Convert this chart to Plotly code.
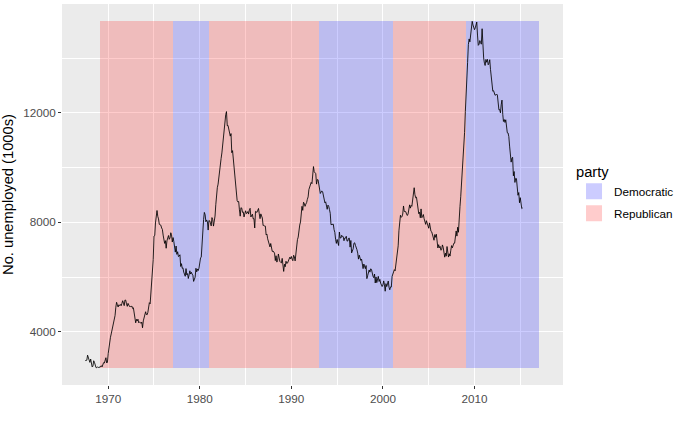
import pandas as pd
import plotly.graph_objects as go

# Monthly number of unemployed (thousands), starting July 1967
unemploy = [
    2944, 2945, 2958, 3143, 3066, 3018,
    2878, 3001, 2877, 2709, 2740, 2938, 2883, 2768, 2686, 2689, 2715, 2685,
    2718, 2692, 2712, 2758, 2713, 2816, 2868, 2856, 3040, 3049, 2856, 2884,
    3201, 3453, 3635, 3797, 3919, 4071, 4175, 4256, 4456, 4591, 4898, 5076,
    4986, 4903, 4987, 4959, 4996, 4949, 5035, 5134, 5042, 4954, 5161, 5154,
    5019, 4928, 5038, 4959, 4922, 4923, 4913, 4939, 4849, 4875, 4602, 4543,
    4326, 4452, 4394, 4459, 4329, 4363, 4305, 4305, 4350, 4144, 4396, 4489,
    4644, 4731, 4634, 4618, 4705, 4927, 5063, 5022, 5437, 5523, 6140, 6636,
    7501, 7520, 7978, 8210, 8433, 8220, 8127, 7928, 7923, 7897, 7794, 7744,
    7534, 7326, 7230, 7330, 7053, 7322, 7490, 7518, 7380, 7430, 7620, 7545,
    7280, 7443, 7307, 7059, 6911, 7134, 6829, 6925, 6751, 6763, 6815, 6386,
    6489, 6318, 6337, 6180, 6127, 6028, 6309, 6080, 6125, 5947, 6077, 6228,
    6109, 6173, 6109, 6069, 5840, 5959, 5996, 6320, 6190, 6296, 6238, 6325,
    6683, 6702, 6729, 7358, 7984, 8098, 8363, 8281, 8021, 8088, 8023, 7718,
    8071, 8051, 7982, 7869, 8174, 8098, 7863, 8036, 8230, 8646, 9029, 9267,
    9397, 9705, 9895, 10244, 10335, 10538, 10849, 10881, 11217, 11529, 11938, 12051,
    11534, 11545, 11408, 11268, 11154, 11246, 10548, 10623, 10282, 9887, 9499, 9331,
    9008, 8791, 8746, 8762, 8456, 8226, 8537, 8519, 8367, 8381, 8198, 8358,
    8423, 8321, 8339, 8395, 8302, 8460, 8513, 8196, 8248, 8298, 8128, 8138,
    7795, 8402, 8383, 8364, 8439, 8508, 8319, 8135, 8310, 8243, 8159, 7883,
    7892, 7865, 7862, 7542, 7574, 7398, 7268, 7261, 7102, 7227, 7035, 6936,
    6953, 6929, 6876, 6601, 6779, 6546, 6605, 6843, 6604, 6568, 6537, 6518,
    6682, 6359, 6205, 6468, 6375, 6577, 6495, 6511, 6590, 6630, 6725, 6667,
    6752, 6651, 6598, 6797, 6742, 6590, 6922, 7188, 7368, 7459, 7764, 7901,
    8015, 8265, 8586, 8439, 8736, 8692, 8586, 8666, 8722, 8842, 8931, 9198,
    9283, 9454, 9460, 9415, 9744, 10040, 9850, 9787, 9781, 9398, 9565, 9557,
    9325, 9183, 9056, 9110, 9149, 9121, 8930, 8763, 8714, 8750, 8542, 8477,
    8630, 8583, 8470, 8331, 7915, 7927, 7946, 7933, 7734, 7632, 7375, 7230,
    7375, 7187, 7153, 7645, 7430, 7427, 7527, 7484, 7478, 7328, 7426, 7423,
    7491, 7313, 7318, 7415, 7423, 7095, 7337, 6882, 6979, 7031, 7236, 7253,
    7158, 7102, 7000, 6873, 6655, 6799, 6655, 6608, 6656, 6454, 6308, 6476,
    6368, 6306, 6422, 5941, 6047, 6212, 6259, 6179, 6300, 6280, 6100, 6032,
    5976, 6111, 5783, 6004, 5796, 5951, 6025, 5838, 5915, 5778, 5716, 5653,
    5708, 5858, 5733, 5481, 5758, 5651, 5747, 5853, 5625, 5534, 5639, 5634,
    6023, 6089, 6141, 6271, 6226, 6484, 6583, 7042, 7142, 7694, 8003, 8258,
    8182, 8215, 8304, 8599, 8399, 8393, 8390, 8304, 8251, 8307, 8520, 8640,
    8520, 8618, 8588, 8842, 8957, 9266, 9011, 8896, 8921, 8732, 8576, 8317,
    8370, 8167, 8491, 8170, 8212, 8286, 8136, 7990, 7927, 8061, 7932, 7934,
    7784, 7980, 7737, 7672, 7651, 7524, 7406, 7345, 7553, 7453, 7566, 7279,
    7064, 7184, 7072, 7120, 6980, 7001, 7175, 7091, 6847, 6727, 6872, 6762,
    7116, 6927, 6731, 6850, 6766, 6979, 7149, 7067, 7170, 7237, 7240, 7645,
    7685, 7497, 7822, 7637, 8395, 8575, 8937, 9438, 9494, 10074, 10538, 11286,
    12058, 12898, 13426, 13853, 14499, 14707, 14601, 14814, 15009, 15352, 15219, 15098,
    15046, 15113, 15202, 15325, 14849, 14474, 14512, 14648, 14579, 14516, 15081, 14348,
    14013, 13820, 13737, 13957, 13855, 13962, 13763, 13818, 13948, 13594, 13302, 13093,
    12797, 12813, 12713, 12646, 12660, 12692, 12656, 12471, 12115, 12124, 12005, 12298,
    12471, 11950, 11689, 11760, 11654, 11751, 11335, 11279, 11270, 11136, 10787, 10404,
    10202, 10349, 10380, 9702, 9859, 9460, 9608, 9599, 9262, 8990, 9090, 8717,
    8903, 8610, 8504, 8526,
]
dates = pd.date_range("1967-07-01", periods=len(unemploy), freq="MS")

# Presidential terms
term_start = ["1969-01-20", "1974-08-09", "1977-01-20", "1981-01-20", "1989-01-20",
              "1993-01-20", "2001-01-20", "2009-01-20"]
term_end = ["1974-08-09", "1977-01-20", "1981-01-20", "1989-01-20", "1993-01-20",
            "2001-01-20", "2009-01-20", "2017-01-20"]
party = ["Republican", "Republican", "Democratic", "Republican", "Republican",
         "Democratic", "Republican", "Democratic"]

party_names = ["Democratic", "Republican"]
party_colors = {"Democratic": "rgba(0,0,255,0.2)", "Republican": "rgba(255,0,0,0.2)"}
ymin, ymax = min(unemploy), max(unemploy)

fig = go.Figure()
for s, e, p in zip(term_start, term_end, party):
    s_ts, e_ts = pd.Timestamp(s), pd.Timestamp(e)
    mid = s_ts + (e_ts - s_ts) / 2
    width_ms = (e_ts - s_ts).total_seconds() * 1000
    fig.add_trace(go.Bar(
        x=[mid], y=[ymax - ymin], base=[ymin], width=[width_ms],
        marker=dict(color=party_colors[p], line=dict(width=0)),
        name=p, legendgroup=p, showlegend=False, hoverinfo="skip",
    ))

# legend keys
for p in party_names:
    fig.add_trace(go.Scatter(
        x=[None], y=[None], mode="markers", name=p, legendgroup=p,
        marker=dict(symbol="square", size=20, color=party_colors[p], line=dict(width=0)),
    ))

fig.add_trace(go.Scatter(
    x=dates, y=unemploy, mode="lines",
    line=dict(color="black", width=0.85), showlegend=False,
))

grid = "white"
fig.update_layout(
    width=686, height=426,
    margin=dict(l=62, r=123, t=4, b=41, autoexpand=False),
    paper_bgcolor="white", plot_bgcolor="#EBEBEB",
    barmode="overlay", bargap=0,
    font=dict(family="Liberation Sans, Arial, sans-serif", color="#4D4D4D", size=11.7),
    legend=dict(
        title=dict(text="party", font=dict(size=14.7, color="black")),
        font=dict(size=11.7, color="black"),
        x=1.022, xanchor="left", y=0.597, yanchor="top",
        tracegroupgap=3, itemsizing="trace", bgcolor="rgba(0,0,0,0)",
    ),
    xaxis=dict(
        type="date", range=["1964-12-15", "2019-09-01"],
        tick0="1970-01-01", dtick="M120", tickformat="%Y",
        showgrid=True, gridcolor=grid, gridwidth=1.1,
        minor=dict(dtick="M60", tick0="1965-01-01", showgrid=True,
                   gridcolor=grid, gridwidth=0.5, ticks=""),
        ticks="outside", ticklen=3, tickcolor="#333333", tickwidth=1,
        zeroline=False, showline=False,
        tickfont=dict(size=11.7, color="#4D4D4D"),
    ),
    yaxis=dict(
        range=[ymin - 0.05 * (ymax - ymin), ymax + 0.05 * (ymax - ymin)],
        tick0=0, dtick=4000, tickformat="d",
        showgrid=True, gridcolor=grid, gridwidth=1.1,
        minor=dict(dtick=2000, showgrid=True, gridcolor=grid, gridwidth=0.5, ticks=""),
        ticks="outside", ticklen=3, tickcolor="#333333", tickwidth=1,
        zeroline=False, showline=False,
        title=dict(text="No. unemployed (1000s)", font=dict(size=14.7, color="black"), standoff=8),
        tickfont=dict(size=11.7, color="#4D4D4D"),
    ),
)

fig.write_html("out.html")
